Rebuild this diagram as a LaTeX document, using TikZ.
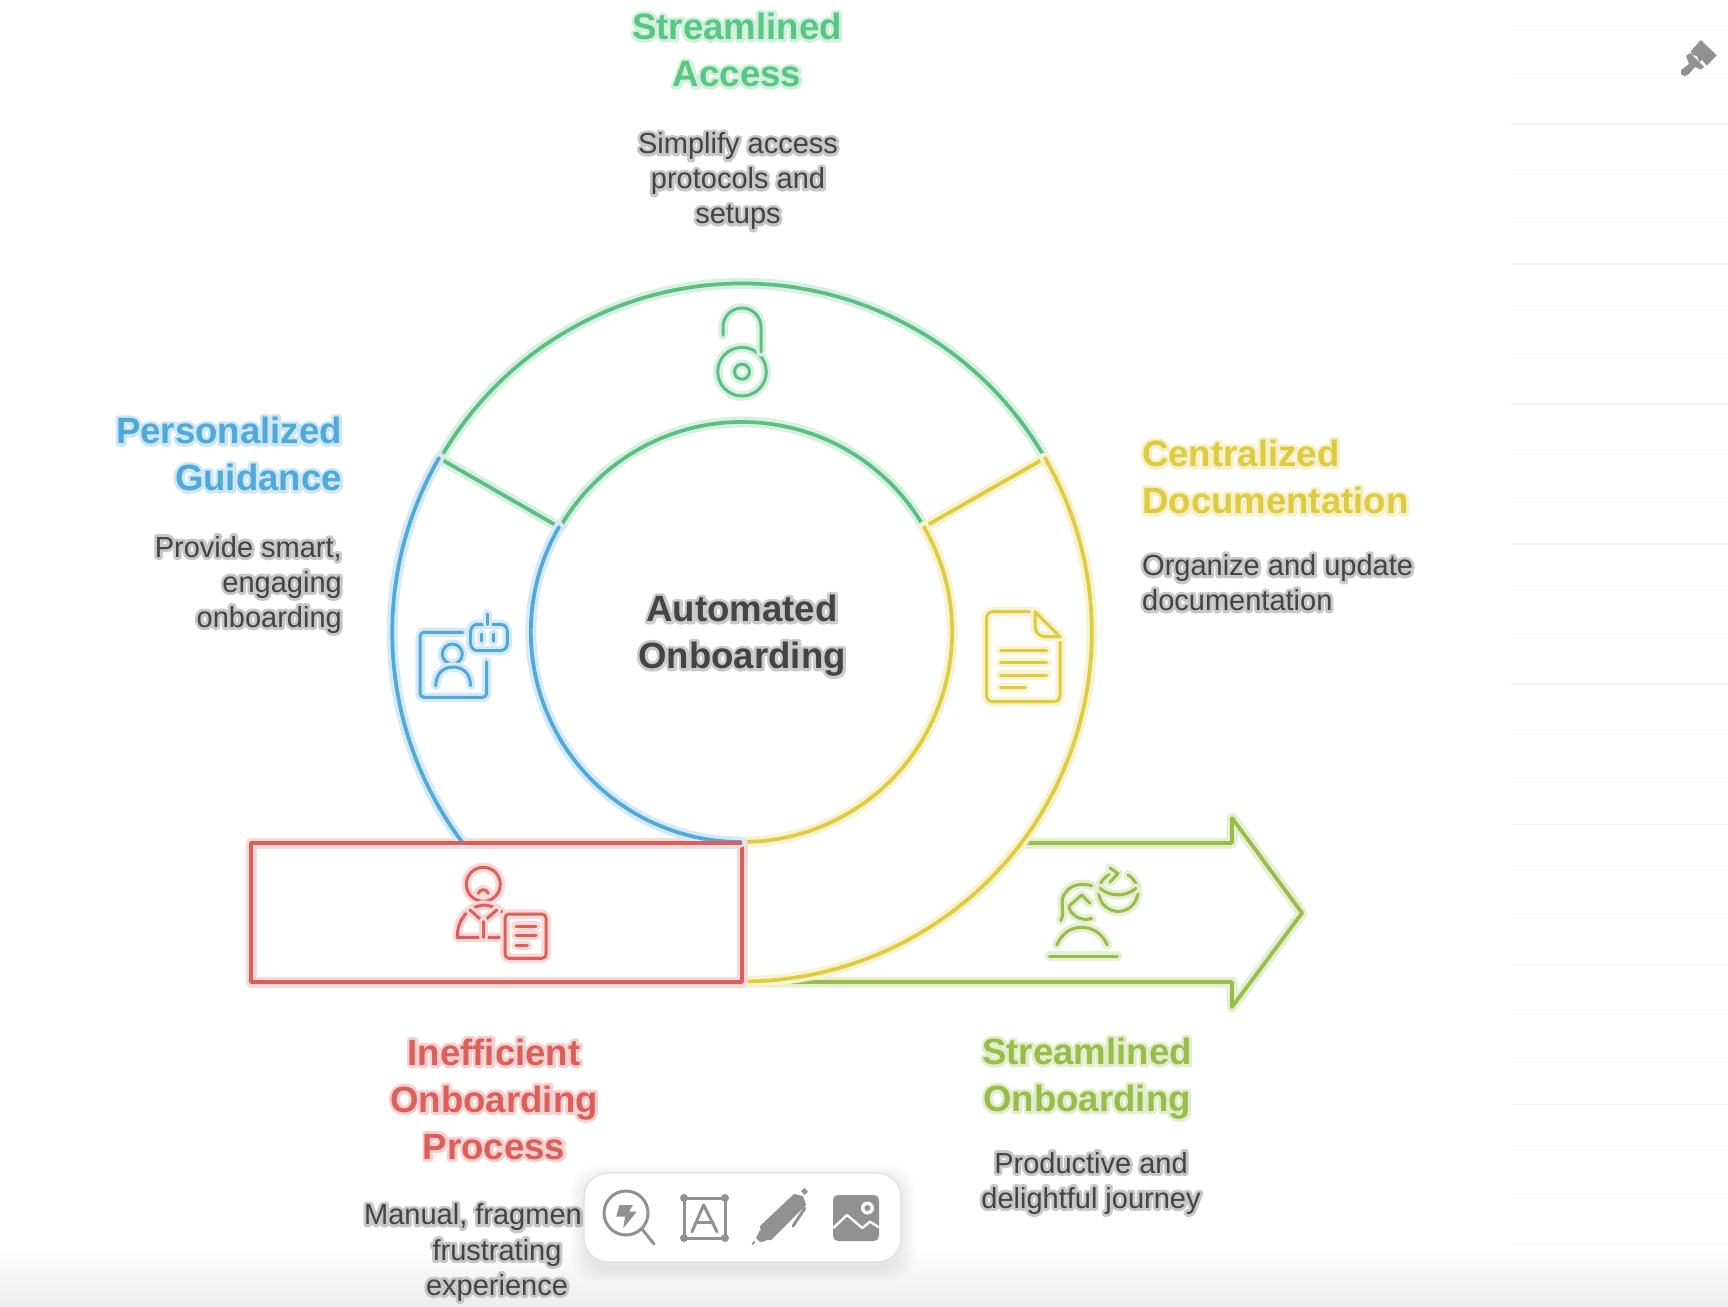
\documentclass[tikz,border=0pt]{standalone}
\usepackage{fontspec}
\setmainfont{Liberation Sans}
\newfontface\haloreg{Liberation Sans}[FakeBold=20]
\newfontface\halobold{Liberation Sans Bold}[FakeBold=16]
\newfontface\boldface{Liberation Sans Bold}
\definecolor{cgreen}{HTML}{5BBF82}
\definecolor{cgreent}{HTML}{58C784}
\definecolor{cblue}{HTML}{4FA9DA}
\definecolor{cyellow}{HTML}{DFCB40}
\definecolor{cred}{HTML}{DC5F5A}
\definecolor{clime}{HTML}{97BD4B}
\definecolor{ctext}{HTML}{444444}
\definecolor{cgrey}{HTML}{919191}
\newcommand\tline[2]{\leavevmode\special{pdf:code 1 j 1 J}\rlap{\halobold\color{#1!28}#2}{\boldface\color{#1}#2}}
\newcommand\bline[1]{\leavevmode\special{pdf:code 1 j 1 J}\rlap{\haloreg\color{ctext!30}#1}{\color{ctext}#1}}
\tikzset{
  x=1pt,y=-1pt,
  ln/.style={draw=#1,line width=3.7pt,line join=round,line cap=round,preaction={draw=#1!24,line width=11pt,line join=round,line cap=round}},
  ic/.style={draw=#1,line width=3pt,line join=round,line cap=round,preaction={draw=#1!24,line width=9.5pt,line join=round,line cap=round}},
  title/.style={inner sep=0pt,font=\fontsize{36.6}{47}\selectfont},
  body/.style={inner sep=0pt,font=\fontsize{29}{35}\selectfont},
  tool/.style={draw=cgrey,line width=3pt,line cap=round,line join=round},
}
\begin{document}
\begin{tikzpicture}
\useasboundingbox (0,0) rectangle (1728,1306);
\fill[white] (0,0) rectangle (1728,1306);
% notebook lines
\foreach \k in {0,...,27} \draw[draw=black!4,line width=1.2pt] (1511,{30.7+46.67*\k}) -- (1728,{30.7+46.67*\k});
\shade[top color=white,bottom color=black!7,draw=none] (0,1245) rectangle (1728,1306);
% brush
\fill[cgrey] (1700.7,40) -- (1716.7,55.3) -- (1706.7,65.7) -- (1702,60) -- (1699,62) -- (1697,56) -- (1692,55) -- (1691,51) -- cycle;
\fill[cgrey] (1690,53) -- (1704,67) -- (1701,69.5) -- (1695,67) -- (1688,75) -- (1684,76) -- (1681,74) -- (1681,70) -- (1689,64) -- (1686,56) -- cycle;
% anchors
\coordinate (oG) at (439,458);
\coordinate (oY) at (1045,458);
\coordinate (iG) at (559,527);
\coordinate (iY) at (924,527);
\coordinate (bottomO) at (742,982);
\coordinate (arrA) at (1022,843);
\coordinate (arrB) at (1232,843);
\coordinate (arrC) at (1232,818);
\coordinate (arrD) at (1302,913);
\coordinate (arrE) at (1232,1007);
\coordinate (arrF) at (1232,982);
% arrow
\draw[ln=clime] (arrA) -- (arrB) -- (arrC) -- (arrD) -- (arrE) -- (arrF) -- (bottomO);
% green segment
\draw[ln=cgreen] (oY) arc[start angle=30,end angle=150,radius=349pt];
\draw[ln=cgreen] (iY) arc[start angle=30,end angle=150,radius=210pt];
\draw[ln=cgreen] (oG) -- (iG);
% yellow
\draw[ln=cyellow] (oY) -- (iY);
\draw[ln=cyellow] (oY) arc[start angle=30,end angle=-90,radius=349pt];
\draw[ln=cyellow] (iY) arc[start angle=30,end angle=-90,radius=210pt];
% red
\draw[ln=cred,line cap=butt] (251,843) rectangle (742,982);
% blue
\draw[ln=cblue] (oG) arc[start angle=150,end angle=217,radius=349pt];
\draw[ln=cblue] (iG) arc[start angle=150,end angle=270,radius=210pt];
\draw[draw=cred,line width=3.7pt] (440,843) -- (742,843);
% lock
\draw[ic=cgreen] (742,371.7) circle[radius=24.3pt];
\draw[ic=cgreen] (742,371.7) circle[radius=7.5pt];
\draw[ic=cgreen] (723,335) -- (723,327) arc[start angle=180,end angle=0,radius=19pt] -- (761,352);
% blue person+bot
\draw[ic=cblue,rounded corners=4pt] (462.7,632.3) -- (420,632.3) -- (420,697.3) -- (486.7,697.3) -- (486.7,661.7);
\draw[ic=cblue] (452.3,654) circle[radius=10pt];
\draw[ic=cblue] (435.7,685.7) .. controls (436,672) and (445,667) .. (453,667) .. controls (462,667) and (470,672) .. (470.7,685.7);
\draw[ic=cblue,rounded corners=7pt] (470.7,624.3) rectangle (507.3,650.7);
\draw[ic=cblue] (487.7,614) -- (487.7,624.3);
\draw[ic=cblue] (481.7,634) -- (481.7,641);
\draw[ic=cblue] (493.7,634) -- (493.7,641);
% yellow doc
\draw[ic=cyellow,rounded corners=6pt] (1035,611.7) -- (986.7,611.7) -- (986.7,701.7) -- (1060,701.7) -- (1060,636.7);
\draw[ic=cyellow] (1035,611.7) -- (1060,636.7) -- (1046,636.7) .. controls (1039,636.7) and (1035,632) .. (1035,626) -- cycle;
\draw[ic=cyellow] (1000.7,650.7) -- (1046.7,650.7);
\draw[ic=cyellow] (1000.7,662.7) -- (1046.7,662.7);
\draw[ic=cyellow] (1000.7,675) -- (1046.7,675);
\draw[ic=cyellow] (1000.7,687.3) -- (1025,687.3);
% red person+doc
\draw[ic=cred] (483.3,884.3) circle[radius=17pt];
\draw[ic=cred] (478.3,893.3) .. controls (480,888.5) and (486.5,888.5) .. (488.3,893.3);
\draw[ic=cred] (500,937.3) -- (457.3,937.3) .. controls (457,920) and (468,907) .. (483,905) .. controls (490,905) and (497,908) .. (502,912);
\draw[ic=cred] (470,910) -- (483.3,921.7) -- (496.7,910);
\draw[ic=cred] (483.3,921.7) -- (483.3,937.3);
\draw[ic=cred,rounded corners=4pt] (505,914) rectangle (546,958.3);
\draw[ic=cred] (516,926) -- (536,926);
\draw[ic=cred] (516,935.7) -- (536,935.7);
\draw[ic=cred] (516,945.7) -- (527.3,945.7);
% lime person
\draw[ic=clime] (1049.3,956) -- (1117.3,956);
\draw[ic=clime] (1056.7,945) .. controls (1062,933) and (1071,927.3) .. (1081.7,927.3) .. controls (1092,927.3) and (1102,933) .. (1107.3,945);
\draw[ic=clime] (1060.7,920.7) .. controls (1066,912) and (1058,900) .. (1066,892) .. controls (1072,884) and (1082,883) .. (1091.7,885.7);
\draw[ic=clime] (1090,903.3) -- (1081.7,895) -- (1069,906) .. controls (1068,912) and (1080,923) .. (1091.7,918.3);
\draw[ic=clime] (1128,875) arc[start angle=60,end angle=-248,radius=19.5pt];
\draw[ic=clime] (1110,868) -- (1118,873.5) -- (1110,882);
\draw[ic=clime] (1100,888.3) .. controls (1110,897) and (1126,897) .. (1136,888.3);
% texts
\node[title,align=center] (t1) at (737,50) {\tline{cgreent}{Streamlined}\\\tline{cgreent}{Access}};
\node[body,align=center] (b1) at (738,181) {\bline{Simplify access}\\\bline{protocols and}\\\bline{setups}};
\node[title,align=right,anchor=east] (t2) at (342,454) {\tline{cblue}{Personalized}\\\tline{cblue}{Guidance}};
\node[body,align=right,anchor=east] (b2) at (342,584.5) {\bline{Provide smart,}\\\bline{engaging}\\\bline{onboarding}};
\node[title,align=left,anchor=west] (t3) at (1142,477) {\tline{cyellow}{Centralized}\\\tline{cyellow}{Documentation}};
\node[body,align=left,anchor=west] (b3) at (1142,582.5) {\bline{Organize and update}\\\bline{documentation}};
\node[title,align=center] (t4) at (742,635.5) {\tline{ctext}{Automated}\\\tline{ctext}{Onboarding}};
\node[title,align=center] (t5) at (494,1099) {\tline{cred}{Inefficient}\\\tline{cred}{Onboarding}\\\tline{cred}{Process}};
\node[body,anchor=west] (b5a) at (364,1217) {\bline{Manual, fragmen}};
\node[body,align=center] (b5) at (497,1270) {\bline{frustrating}\\\bline{experience}};
\node[title,align=center] (t6) at (1087,1078.5) {\tline{clime}{Streamlined}\\\tline{clime}{Onboarding}};
\node[body,align=center] (b6) at (1091,1183) {\bline{Productive and}\\\bline{delightful journey}};
% toolbar
\foreach \s in {14,11,8,5,2}
  \fill[black,opacity=.014,rounded corners=26pt] ({584-\s},{1173-\s+6}) rectangle ({901+\s},{1262+\s+6});
\draw[draw=black!12,fill=white,line width=1.3pt,rounded corners=24pt] (584,1173) rectangle (901,1262);
\draw[tool] (626,1213) circle[radius=22pt];
\draw[tool] (642,1229) -- (654,1244);
\fill[cgrey] (619.4,1205) -- (632.8,1205) -- (628.9,1211.7) -- (636.6,1211.7) -- (623.2,1228.3) -- (625.1,1216.7) -- (616.3,1216.7) -- cycle;
\draw[tool] (684,1198) rectangle (725,1238);
\foreach \px/\py in {684/1198,725/1198,684/1238,725/1238} \fill[cgrey] (\px,\py) circle[radius=4pt];
\draw[tool] (692,1231.7) -- (703.6,1205) -- (717,1231.7);
\draw[tool] (696,1222.7) -- (713,1222.7);
\fill[cgrey] (760,1226) -- (794,1194) -- (803,1196) -- (806,1205) -- (771,1240) -- (762,1240) -- cycle;
\fill[cgrey] (756,1238) -- (760,1230) -- (766,1241) -- (760,1242) -- cycle;
\draw[tool,line width=2pt] (752.5,1244) -- (754.5,1242);
\fill[cgrey] (801,1191) -- (804.5,1188) -- (808,1192) -- (804.5,1195) -- cycle;
\draw[tool] (805,1208) -- (793,1226);
\fill[cgrey,rounded corners=5pt] (833,1195) rectangle (879,1241);
\draw[white,line width=2.4pt,line join=round] (833.3,1228) -- (847,1215) -- (862.4,1228) -- (870,1221.7) -- (879,1227.3);
\fill[white] (867.4,1208) circle[radius=6.5pt];
\fill[cgrey] (867.4,1208) circle[radius=3pt];
\end{tikzpicture}
\end{document}
